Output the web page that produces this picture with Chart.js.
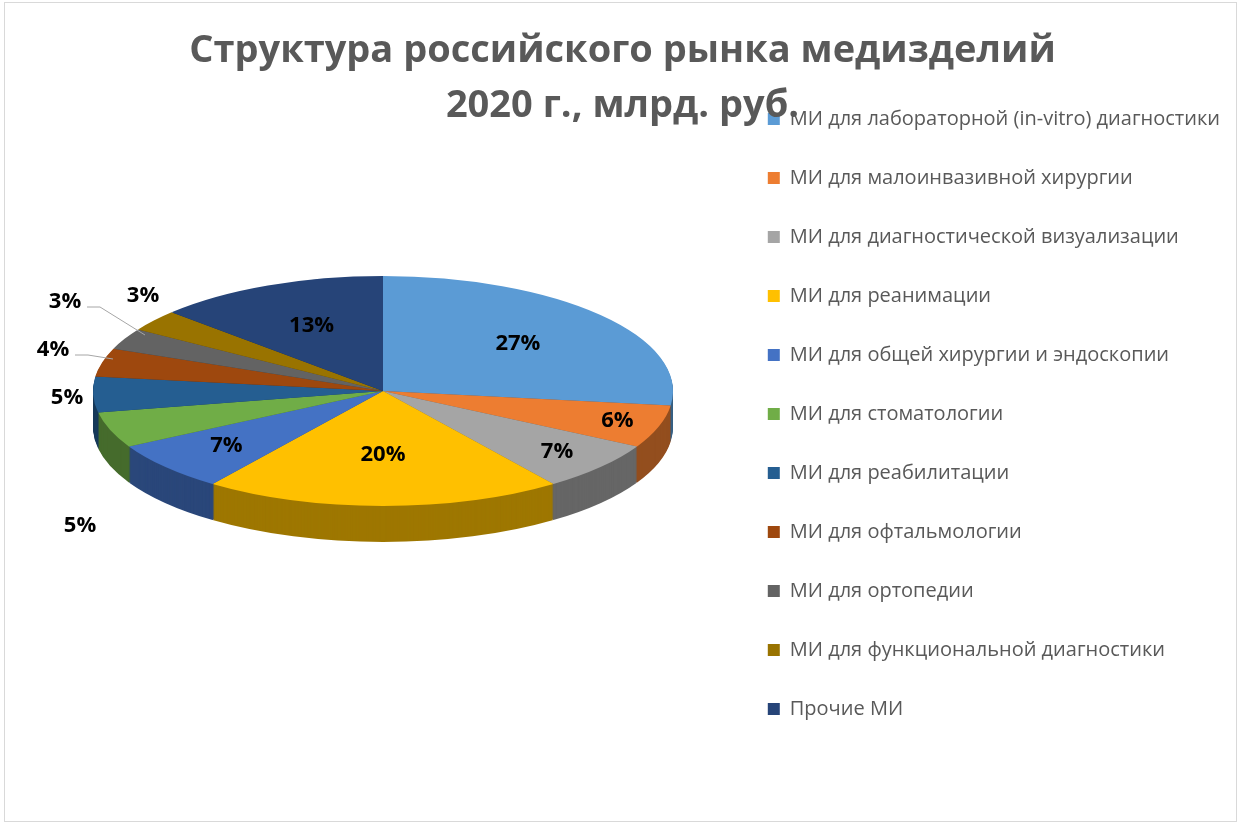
<!DOCTYPE html>
<html>
<head>
<meta charset="utf-8">
<script src="https://cdn.jsdelivr.net/npm/chart.js@4.4.0/dist/chart.umd.min.js"></script>
<style>
  html, body { margin: 0; padding: 0; background: #fff; }
  #wrap { position: absolute; left: 4px; top: 2px; width: 1233px; height: 820px; border: 1px solid #d9d9d9; box-sizing: border-box; }
</style>
</head>
<body>
<div id="wrap"><canvas id="chart"></canvas></div>
<script>
// Данные диаграммы
const categories = [
    'МИ для лабораторной (in-vitro) диагностики',
    'МИ для малоинвазивной хирургии',
    'МИ для диагностической визуализации',
    'МИ для реанимации',
    'МИ для общей хирургии и эндоскопии',
    'МИ для стоматологии',
    'МИ для реабилитации',
    'МИ для офтальмологии',
    'МИ для ортопедии',
    'МИ для функциональной диагностики',
    'Прочие МИ'
];
const shares = [27, 6, 7, 20, 7, 5, 5, 4, 3, 3, 13];
const sliceColors = ['#5B9BD5', '#ED7D31', '#A5A5A5', '#FFC000', '#4472C4', '#70AD47',
                     '#255E91', '#9E480E', '#636363', '#997300', '#264478'];

// Геометрия наклонённого "3D" круга (экранные пиксели)
const tilt = { cx: 378, cy: 388, rx: 290, ry: 115, depth: 36 };
// Положение подписей: доля радиуса или фиксированная точка
const labelPos = [
    { f: 0.62 }, { f: 0.85 }, { f: 0.8 }, { f: 0.55 }, { f: 0.72 },
    { x: 75, y: 523 }, { x: 62, y: 395 }, { x: 48, y: 347, lx: 108, ly: 356 },
    { x: 60, y: 299, lx: 140, ly: 332 }, { x: 138, y: 293 }, { f: 0.62 }
];

function shade(hex, k) {
    const n = parseInt(hex.slice(1), 16);
    const r = Math.round(((n >> 16) & 255) * k), g = Math.round(((n >> 8) & 255) * k), b = Math.round((n & 255) * k);
    return `rgb(${r},${g},${b})`;
}

const tiltPlugin = {
    id: 'tilt',
    beforeDatasetsDraw(chart) {
        const ctx = chart.ctx;
        const arcs = chart.getDatasetMeta(0).data;
        const a0 = arcs[0];
        const s = tilt.rx / a0.outerRadius, sy = tilt.ry / a0.outerRadius;
        ctx.save();
        ctx.translate(tilt.cx, tilt.cy);
        ctx.scale(s, sy);
        ctx.translate(-a0.x, -a0.y);
        // боковая стенка
        for (let d = tilt.depth; d > 0; d -= 1) {
            arcs.forEach((arc, i) => {
                ctx.beginPath();
                ctx.moveTo(arc.x, arc.y + d / sy);
                ctx.arc(arc.x, arc.y + d / sy, arc.outerRadius, arc.startAngle, arc.endAngle);
                ctx.closePath();
                ctx.fillStyle = shade(sliceColors[i], 0.62);
                ctx.fill();
            });
        }
    },
    afterDatasetsDraw(chart) {
        chart.ctx.restore();
    },
    afterDraw(chart) {
        const ctx = chart.ctx;
        const arcs = chart.getDatasetMeta(0).data;
        ctx.save();
        ctx.font = 'bold 22px "Open Sans", sans-serif';
        ctx.fillStyle = '#000';
        ctx.textAlign = 'center';
        ctx.textBaseline = 'middle';
        arcs.forEach((arc, i) => {
            const p = labelPos[i];
            let x, y;
            if (p.f !== undefined) {
                const mid = (arc.startAngle + arc.endAngle) / 2;
                x = tilt.cx + Math.cos(mid) * tilt.rx * p.f;
                y = tilt.cy + Math.sin(mid) * tilt.ry * p.f;
            } else {
                x = p.x; y = p.y;
            }
            if (p.lx) {
                ctx.strokeStyle = '#a6a6a6';
                ctx.lineWidth = 1;
                ctx.beginPath();
                ctx.moveTo(x + 22, y + 5);
                ctx.lineTo(x + 35, y + 5);
                ctx.lineTo(p.lx, p.ly);
                ctx.stroke();
            }
            ctx.fillText(shares[i] + '%', x, y);
        });
        ctx.restore();
    }
};

new Chart(document.getElementById('chart'), {
    type: 'pie',
    data: {
        labels: categories,
        datasets: [{
            data: shares,
            backgroundColor: sliceColors,
            borderWidth: 0,
            hoverOffset: 0
        }]
    },
    plugins: [tiltPlugin],
    options: {
        responsive: true,
        maintainAspectRatio: false,
        animation: false,
        events: [],
        layout: { padding: { top: 4, bottom: 0, left: 10, right: 6 } },
        plugins: {
            title: {
                display: true,
                text: ['Структура российского рынка медизделий', '2020 г., млрд. руб.'],
                color: '#595959',
                font: { family: '"Open Sans", sans-serif', size: 38, weight: 'bold', lineHeight: 1.45 },
                padding: { top: 17, bottom: 0 }
            },
            legend: {
                position: 'right',
                align: 'center',
                labels: {
                    color: '#595959',
                    font: { family: '"Open Sans", sans-serif', size: 20 },
                    boxWidth: 12,
                    boxHeight: 12,
                    padding: 39
                }
            },
            tooltip: { enabled: false }
        }
    }
});
</script>
</body>
</html>
